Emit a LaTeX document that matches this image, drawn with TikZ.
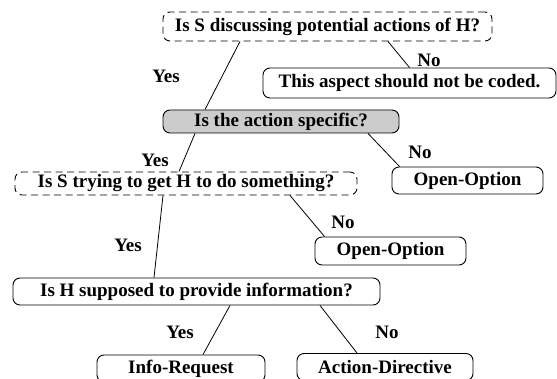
\documentclass[tikz,border=0pt]{standalone}
\usepackage{fontspec}
\setmainfont{Liberation Serif}
\usetikzlibrary{positioning}
\begin{document}
\begin{tikzpicture}[x=1pt,y=-1pt,font=\fontsize{19}{22}\selectfont\bfseries,
  box/.style={draw,rounded corners=7pt,line width=0.9pt,inner sep=0pt},
  qbox/.style={box,dash pattern=on 7pt off 4.5pt},
  gbox/.style={box,fill=black!20},
  edge/.style={line width=0.8pt},
  lbl/.style={inner sep=0pt}]
\useasboundingbox (0,0) rectangle (557,379);
% questions and outcomes
\node[qbox,minimum width=329pt,minimum height=29pt] (discuss) at (327.5,26.5) {Is S discussing potential actions of H?};
\node[box,minimum width=293pt,minimum height=30pt] (nocode) at (409.5,83) {This aspect should not be coded.};
\node[gbox,minimum width=236pt,minimum height=23pt] (specific) at (281,121.5) {Is the action specific?};
\node[box,minimum width=151pt,minimum height=27pt] (openA) at (467.5,180.5) {Open-Option};
\node[qbox,minimum width=342pt,minimum height=23pt] (trying) at (186,183.5) {Is S trying to get H to do something?};
\node[box,minimum width=151pt,minimum height=28pt] (openB) at (390.5,251) {Open-Option};
\node[box,minimum width=367pt,minimum height=27pt] (inform) at (196.5,291.5) {Is H supposed to provide information?};
\node[box,minimum width=168pt,minimum height=27pt] (inforeq) at (181,368.5) {Info-Request};
\node[box,minimum width=176pt,minimum height=27pt] (actdir) at (385,367) {Action-Directive};
% branches
\draw[edge] ([xshift=-87.5pt]discuss.south) -- ([xshift=-76pt]specific.north);
\draw[edge] ([xshift=60.5pt]discuss.south) -- (nocode.north);
\draw[edge] ([xshift=-86pt]specific.south) -- ([xshift=-7pt]trying.north);
\draw[edge] ([xshift=87pt]specific.south) -- ([xshift=8pt]openA.north west);
\draw[edge] ([xshift=-23pt]trying.south) -- ([xshift=-42.5pt]inform.north);
\draw[edge] ([xshift=104pt]trying.south) -- ([xshift=10pt]openB.north west);
\draw[edge] ([xshift=33.5pt]inform.south) -- ([xshift=22pt]inforeq.north);
\draw[edge] ([xshift=123.5pt]inform.south) -- ([xshift=-28pt]actdir.north);
% answers
\node[lbl] (y1) at (166,76) {Yes}; \node[lbl] (n1) at (429,60) {No};
\node[lbl] (y2) at (155,160) {Yes}; \node[lbl] (n2) at (420,152) {No};
\node[lbl] (y3) at (128,245) {Yes}; \node[lbl] (n3) at (343,222) {No};
\node[lbl] (y4) at (180,332) {Yes}; \node[lbl] (n4) at (387,332) {No};
\end{tikzpicture}
\end{document}
